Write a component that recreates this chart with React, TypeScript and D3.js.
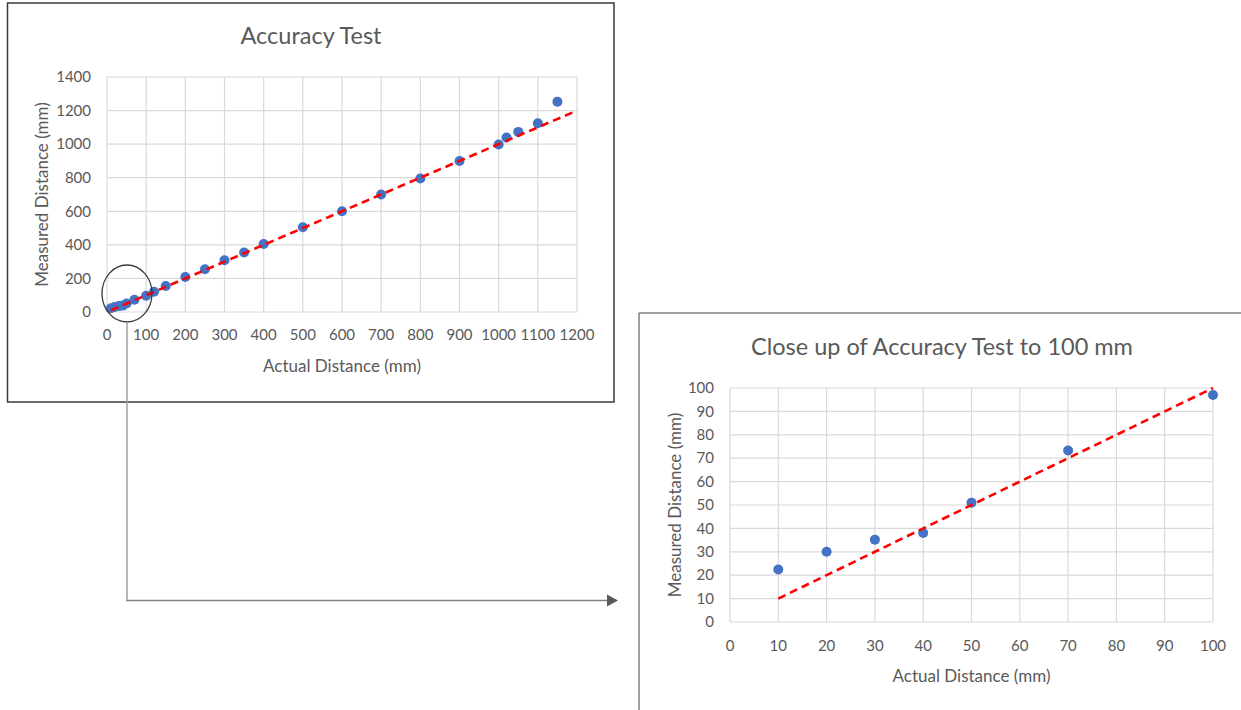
import React from "react";
import * as d3 from "d3";

// Measurement data: actual vs. measured distance (mm)
const actualDistance = [10, 20, 30, 40, 50, 70, 100, 120, 150, 200, 250, 300, 350, 400, 500, 600, 700, 800, 900, 1000, 1020, 1050, 1100, 1150];
const measuredDistance = [22.4, 30, 35.2, 38, 51, 73.3, 97, 121, 155, 208, 255, 308, 355, 405, 505, 600, 700, 795, 900, 998, 1040, 1073, 1125, 1253];

// Close-up subset (up to 100 mm)
const closeActual = [10, 20, 30, 40, 50, 70, 100];
const closeMeasured = [22.4, 30, 35.2, 38, 51, 73.3, 97];

// Ideal y = x reference lines
const idealFull = [10, 1200];
const idealClose = [10, 100];

const fullXTicks = [0, 100, 200, 300, 400, 500, 600, 700, 800, 900, 1000, 1100, 1200];
const fullYTicks = [0, 200, 400, 600, 800, 1000, 1200, 1400];
const closeXTicks = [0, 10, 20, 30, 40, 50, 60, 70, 80, 90, 100];
const closeYTicks = [0, 10, 20, 30, 40, 50, 60, 70, 80, 90, 100];

const FONT = "Lato, 'Open Sans', sans-serif";
const TEXT = "#595959";
const GRID = "#d9d9d9";
const DOT = "#4472C4";

type ChartProps = {
  title: string;
  titleX: number;
  titleY: number;
  titleSize: number;
  x0: number; x1: number; y0: number; y1: number;
  xDomain: [number, number];
  yDomain: [number, number];
  xTicks: number[];
  yTicks: number[];
  xs: number[];
  ys: number[];
  ideal: number[];
  xTickY: number;
  xTitleY: number;
  yTitleX: number;
};

function ScatterChart(p: ChartProps) {
  const x = d3.scaleLinear().domain(p.xDomain).range([p.x0, p.x1]);
  const y = d3.scaleLinear().domain(p.yDomain).range([p.y0, p.y1]);
  const line = d3.line<number>().x((d) => x(d)).y((d) => y(d));
  return (
    <g fontFamily={FONT} fill={TEXT}>
      <text x={p.titleX} y={p.titleY} textAnchor="middle" fontSize={p.titleSize}>{p.title}</text>
      {p.yTicks.map((t) => (
        <line key={"gy" + t} x1={p.x0} x2={p.x1} y1={y(t)} y2={y(t)} stroke={GRID} strokeWidth={1.2} />
      ))}
      {p.xTicks.map((t) => (
        <line key={"gx" + t} x1={x(t)} x2={x(t)} y1={p.y0} y2={p.y1} stroke={GRID} strokeWidth={1.2} />
      ))}
      {p.yTicks.map((t) => (
        <text key={"ty" + t} x={p.x0 - 16} y={y(t)} dy="0.35em" textAnchor="end" fontSize={15}>{t}</text>
      ))}
      {p.xTicks.map((t) => (
        <text key={"tx" + t} x={x(t)} y={p.xTickY} textAnchor="middle" fontSize={15}>{t}</text>
      ))}
      <text x={(p.x0 + p.x1) / 2} y={p.xTitleY} textAnchor="middle" fontSize={17}>Actual Distance (mm)</text>
      <text
        transform={`translate(${p.yTitleX},${(p.y0 + p.y1) / 2}) rotate(-90)`}
        textAnchor="middle"
        dy="0.35em"
        fontSize={17}
      >
        Measured Distance (mm)
      </text>
      {p.xs.map((v, i) => (
        <circle key={"d" + i} cx={x(v)} cy={y(p.ys[i])} r={5} fill={DOT} />
      ))}
      <path d={line(p.ideal) ?? ""} fill="none" stroke="#ff0000" strokeWidth={2.6} strokeDasharray="8 5" />
    </g>
  );
}

export default function App() {
  return (
    <div style={{ position: "fixed", left: 0, top: 0 }}>
      <svg width={1241} height={710} style={{ display: "block", background: "#fff" }}>
        <rect x={0} y={0} width={1241} height={710} fill="#fff" />
        {/* frames */}
        <rect x={7.5} y={3} width={606.5} height={399} fill="none" stroke="#3a3a3a" strokeWidth={1.5} />
        <line x1={639} y1={313} x2={1241} y2={313} stroke="#7f7f7f" strokeWidth={1.5} />
        <line x1={639} y1={313} x2={639} y2={710} stroke="#7f7f7f" strokeWidth={1.5} />

        <ScatterChart
          title="Accuracy Test"
          titleX={311}
          titleY={44}
          titleSize={23.5}
          x0={107} x1={577} y0={312} y1={77}
          xDomain={[0, 1200]}
          yDomain={[0, 1400]}
          xTicks={fullXTicks}
          yTicks={fullYTicks}
          xs={actualDistance}
          ys={measuredDistance}
          ideal={idealFull}
          xTickY={340}
          xTitleY={372}
          yTitleX={42}
        />
        <ScatterChart
          title="Close up of Accuracy Test to 100 mm"
          titleX={942}
          titleY={355}
          titleSize={23.5}
          x0={730} x1={1213} y0={622} y1={388}
          xDomain={[0, 100]}
          yDomain={[0, 100]}
          xTicks={closeXTicks}
          yTicks={closeYTicks}
          xs={closeActual}
          ys={closeMeasured}
          ideal={idealClose}
          xTickY={651}
          xTitleY={682}
          yTitleX={675}
        />

        {/* callout from the low range to the close-up */}
        <ellipse cx={127} cy={293.5} rx={25} ry={28.5} fill="none" stroke="#3a3a3a" strokeWidth={1.3} />
        <line x1={127} y1={322} x2={127} y2={600.5} stroke="#a0a0a0" strokeWidth={1.5} />
        <line x1={126.3} y1={600.5} x2={608} y2={600.5} stroke="#808080" strokeWidth={1.5} />
        <path d="M607,594.5 L618,600.5 L607,606.5 Z" fill="#595959" />
      </svg>
    </div>
  );
}
